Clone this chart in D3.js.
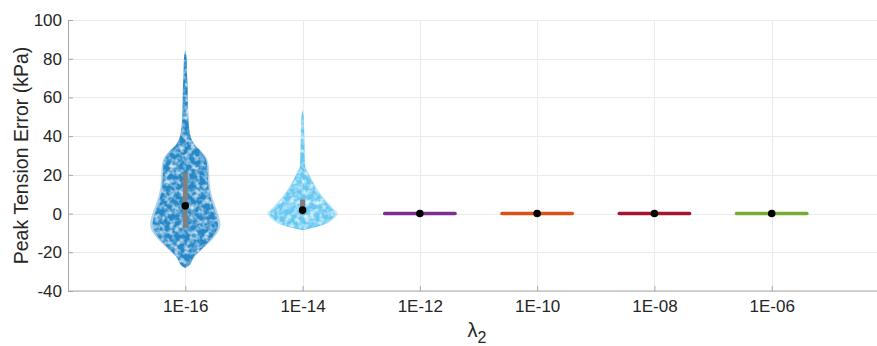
<!DOCTYPE html>
<html>
<head>
<meta charset="utf-8">
<script src="https://cdn.jsdelivr.net/npm/d3@7"></script>
<style>
  html, body { margin: 0; padding: 0; background: #fff; }
  svg { display: block; font-family: "Liberation Sans", Arial, Helvetica, sans-serif; }
</style>
</head>
<body>
<svg id="chart" width="877" height="346"></svg>
<script>
// λ2 regularisation values on the x axis
const categories = ["1E-16", "1E-14", "1E-12", "1E-10", "1E-08", "1E-06"];
const colors = ["#0072BD", "#4DBEEE", "#7E2F8E", "#D95319", "#A2142F", "#77AC30"];
const yTicks = [-40, -20, 0, 20, 40, 60, 80, 100];

// Summary statistics of peak tension error (kPa)
const medians = [4, 1.8, 0, 0, 0, 0];
const q1 = [-7.5, -0.5, 0, 0, 0, 0];
const q3 = [21, 7.3, 0, 0, 0, 0];

// Kernel density outlines: [value (kPa), relative density]
const density1E16 = [
  [-28.2, 0], [-27.4, 0.08], [-22.2, 0.27], [-17, 0.57], [-11.9, 0.84], [-6, 1.0],
  [-1, 0.95], [3.6, 0.86], [10.5, 0.74], [17.4, 0.69], [24.3, 0.67], [29, 0.6], [32.5, 0.45],
  [36, 0.26], [39.7, 0.16], [46.8, 0.1], [55, 0.08], [65, 0.07], [72.5, 0.05], [80, 0.04], [84.2, 0]
];
const density1E14 = [
  [-8.6, 0], [-7.6, 0.25], [-5.9, 0.6], [-3.3, 0.85], [0.2, 1.0], [3, 0.86], [7, 0.66],
  [12.2, 0.44], [17.4, 0.27], [21.6, 0.15], [24.2, 0.08], [32.8, 0.06], [40, 0.05],
  [48.3, 0.04], [53.5, 0]
];
const densities = [density1E16, density1E14, null, null, null, null];

const svg = d3.select("#chart");
const margin = { left: 68, top: 20, bottom: 55 };
const H = 346;
const plotBottom = H - margin.bottom;

const x = d3.scaleLinear().domain([0, categories.length + 1]).range([margin.left, 889]);
const y = d3.scaleLinear().domain([-40, 100]).range([plotBottom, margin.top]);
const halfWidth = 0.3; // violin half-width in category units

// Noise texture that gives the violins a speckled, scattered-points look
const defs = svg.append("defs");
const f = defs.append("filter").attr("id", "mottle")
  .attr("x", "-5%").attr("y", "-5%").attr("width", "110%").attr("height", "110%")
  .attr("color-interpolation-filters", "sRGB");
f.append("feTurbulence").attr("type", "fractalNoise").attr("baseFrequency", 0.2)
  .attr("numOctaves", 2).attr("seed", 7).attr("result", "n");
f.append("feColorMatrix").attr("in", "n").attr("type", "matrix")
  .attr("values", "0 0 0 0 1  0 0 0 0 1  0 0 0 0 1  2.6 0 0 0 -1.05").attr("result", "spots");
f.append("feGaussianBlur").attr("in", "spots").attr("stdDeviation", 0.5).attr("result", "soft");
f.append("feComposite").attr("in", "soft").attr("in2", "SourceAlpha").attr("operator", "in").attr("result", "sp");
const fm = f.append("feMerge");
fm.append("feMergeNode").attr("in", "SourceGraphic");
fm.append("feMergeNode").attr("in", "sp");

// Grid
const grid = svg.append("g").attr("stroke", "#ebebeb").attr("stroke-width", 1);
grid.selectAll(".gy").data(yTicks).join("line")
  .attr("x1", margin.left).attr("x2", 877)
  .attr("y1", d => Math.round(y(d)) + 0.5).attr("y2", d => Math.round(y(d)) + 0.5);
grid.selectAll(".gx").data(categories).join("line")
  .attr("x1", (d, i) => Math.round(x(i + 1)) + 0.5).attr("x2", (d, i) => Math.round(x(i + 1)) + 0.5)
  .attr("y1", margin.top).attr("y2", plotBottom);

// Violins
const plot = svg.append("g");
categories.forEach((c, i) => {
  const cx = x(i + 1);
  const pxPerUnit = x(1) - x(0);
  const dens = densities[i];
  if (dens) {
    const area = s => d3.area()
      .y(d => y(d[0]))
      .x0(d => cx - d[1] * halfWidth * pxPerUnit * s)
      .x1(d => cx + d[1] * halfWidth * pxPerUnit * s)
      .curve(d3.curveMonotoneY);
    plot.append("path").datum(dens).attr("d", area(1))
      .attr("fill", colors[i]).attr("fill-opacity", 0.3);
    plot.append("path").datum(dens).attr("d", area(0.93))
      .attr("fill", colors[i]).attr("fill-opacity", 0.78).attr("filter", "url(#mottle)");
  } else {
    plot.append("line")
      .attr("x1", cx - halfWidth * pxPerUnit).attr("x2", cx + halfWidth * pxPerUnit)
      .attr("y1", y(medians[i])).attr("y2", y(medians[i]))
      .attr("stroke", colors[i]).attr("stroke-width", 3.5).attr("stroke-linecap", "round");
  }
  // Interquartile box
  if (q3[i] > q1[i]) {
    plot.append("rect")
      .attr("x", cx - 2.5).attr("width", 5)
      .attr("y", y(q3[i])).attr("height", y(q1[i]) - y(q3[i]))
      .attr("fill", "#808080");
  }
  // Median
  plot.append("circle").attr("cx", cx).attr("cy", y(medians[i])).attr("r", 3.8).attr("fill", "#000");
});

// Axes
const axisColor = "#a8a8a8";
const textColor = "#262626";
const yAxis = svg.append("g").attr("transform", `translate(${margin.left},0)`)
  .call(d3.axisLeft(y).tickValues(yTicks).tickFormat(d => String(d)).tickSize(-5).tickPadding(6));
const xAxis = svg.append("g").attr("transform", `translate(0,${plotBottom})`)
  .call(d3.axisBottom(x).tickValues(d3.range(1, categories.length + 1))
    .tickFormat(d => categories[d - 1]).tickSize(-5).tickPadding(9));
[yAxis, xAxis].forEach(a => {
  a.select(".domain").attr("stroke", axisColor);
  a.selectAll(".tick line").attr("stroke", axisColor);
  a.selectAll("text").attr("fill", textColor).attr("font-size", 17);
});
xAxis.select(".domain").attr("d", `M${margin.left},0H877`);

// Axis titles
svg.append("text")
  .attr("transform", "rotate(-90)")
  .attr("x", -(margin.top + plotBottom) / 2).attr("y", 28)
  .attr("text-anchor", "middle").attr("font-size", 19.5).attr("fill", textColor)
  .text("Peak Tension Error (kPa)");

const xt = svg.append("text")
  .attr("x", 477).attr("y", 336.5)
  .attr("text-anchor", "middle").attr("font-size", 20).attr("fill", textColor);
xt.append("tspan").text("λ");
xt.append("tspan").attr("dy", 6).attr("font-size", 16).text("2");
</script>
</body>
</html>
